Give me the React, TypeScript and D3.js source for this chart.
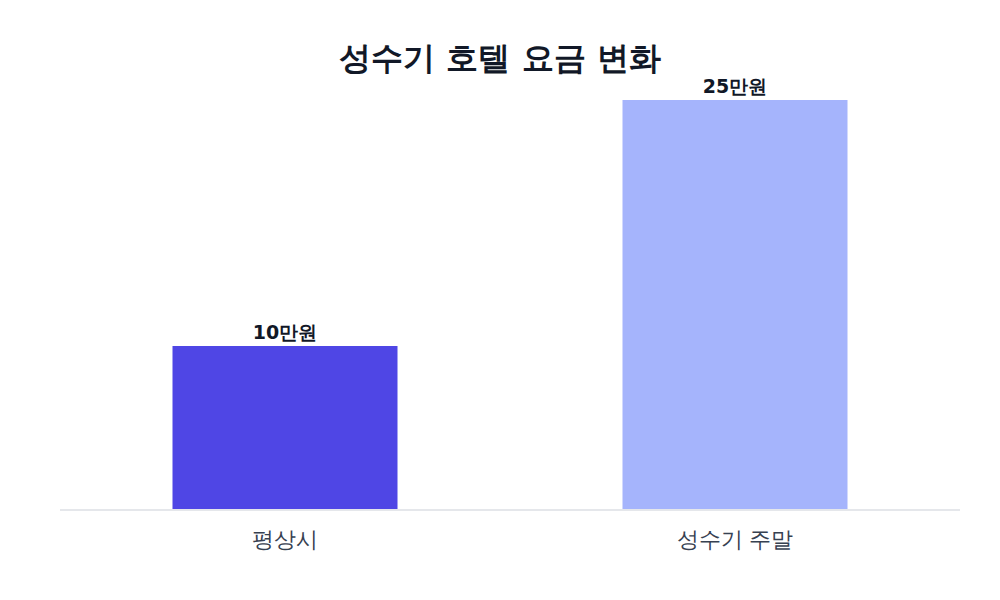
import React from 'react';
import * as d3 from 'd3';

const categories = ['평상시', '성수기 주말'];
const prices = [10, 25];
const priceLabels = ['10만원', '25만원'];
const barColors = ['#4f46e5', '#a5b4fc'];

const WIDTH = 1000;
const HEIGHT = 600;
const margin = { top: 100, right: 40, bottom: 90, left: 60 };
const FONT = '"DejaVu Sans", sans-serif';

const App: React.FC = () => {
  const x = d3.scaleBand<string>()
    .domain(categories)
    .range([margin.left, WIDTH - margin.right])
    .paddingInner(0.5)
    .paddingOuter(0.25);

  const y = d3.scaleLinear()
    .domain([0, d3.max(prices) as number])
    .range([HEIGHT - margin.bottom, margin.top]);

  const baseY = y(0);

  return (
    <svg width={WIDTH} height={HEIGHT} style={{ display: 'block', position: 'absolute', left: 0, top: 0, background: '#fff' }}>
      <text x={WIDTH / 2} y={69} textAnchor="middle" fontFamily={FONT} fontWeight={700} fontSize={32} fill="#111827">
        성수기 호텔 요금 변화
      </text>

      {categories.map((c, i) => (
        <g key={c}>
          <rect
            x={x(c)}
            y={y(prices[i])}
            width={x.bandwidth()}
            height={baseY - y(prices[i])}
            fill={barColors[i]}
          />
          <text
            x={(x(c) as number) + x.bandwidth() / 2}
            y={y(prices[i]) - 7}
            textAnchor="middle"
            fontFamily={FONT}
            fontWeight={700}
            fontSize={19}
            fill="#111827"
          >
            {priceLabels[i]}
          </text>
          <text
            x={(x(c) as number) + x.bandwidth() / 2}
            y={baseY + 37}
            textAnchor="middle"
            fontFamily={FONT}
            fontSize={22}
            fill="#374151"
          >
            {c}
          </text>
        </g>
      ))}

      <line x1={margin.left} x2={WIDTH - margin.right} y1={baseY} y2={baseY} stroke="#e5e7eb" strokeWidth={2} />
    </svg>
  );
};

export default App;
